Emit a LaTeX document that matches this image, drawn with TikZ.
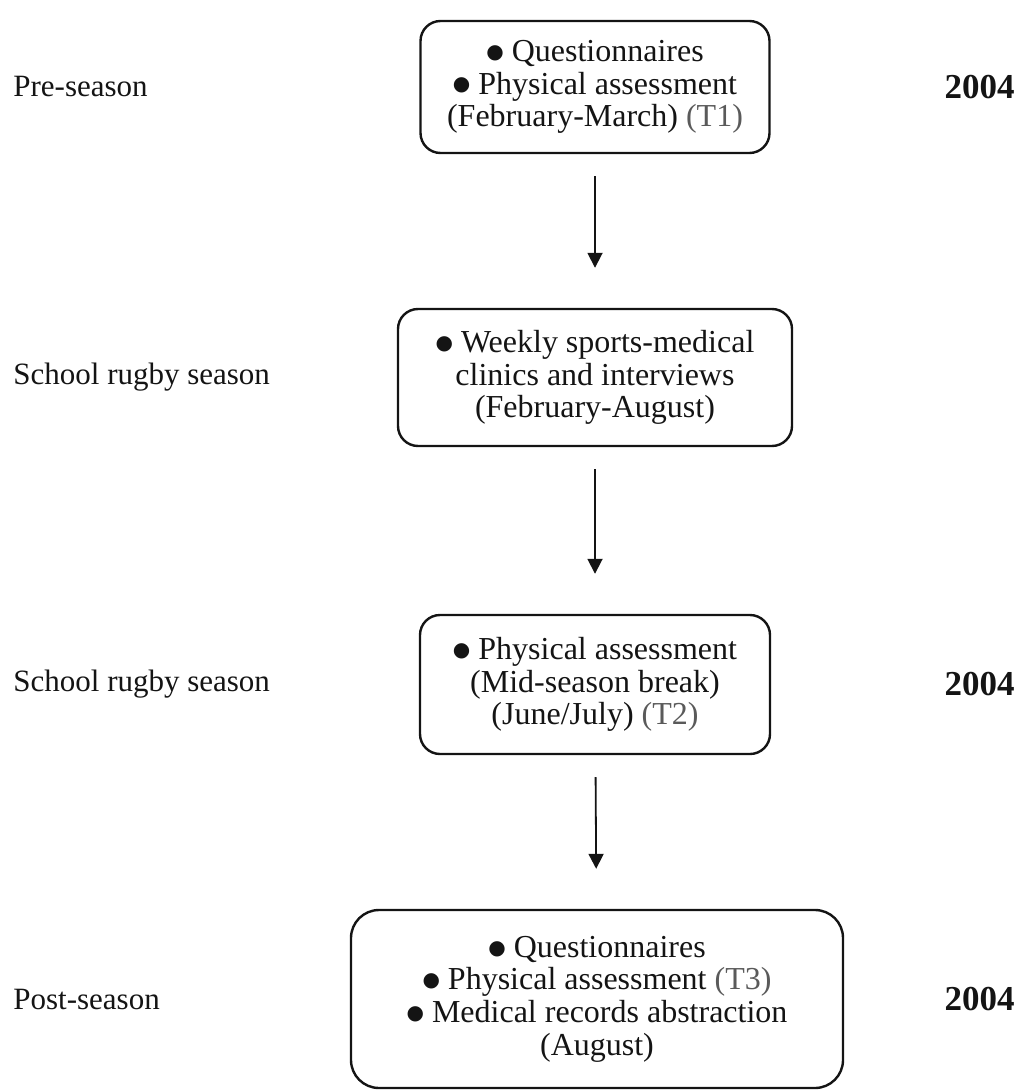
\documentclass[tikz,border=0pt]{standalone}
\usepackage{fontspec}
\setmainfont{Liberation Serif}
\newfontfamily\symfont{DejaVu Sans}
\usepackage{xcolor}
\usepackage{tikz}
\usetikzlibrary{positioning, arrows.meta}
\definecolor{fdInk}{RGB}{20, 20, 20}
\definecolor{fdSoft}{RGB}{90, 90, 90}
\tikzset{
    base/.style={
        font=\fontsize{16}{16.3}\selectfont,
        align=center,
        text=fdInk
    },
    stage/.style={
        base,
        rectangle,
        rounded corners=10pt,
        draw=fdInk,
        line width=1.2pt,
        inner sep=0pt
    },
    phase/.style={
        font=\fontsize{15.5}{17}\selectfont,
        text=fdInk,
        anchor=west,
        inner sep=0pt
    },
    year/.style={
        font=\fontsize{17.5}{18}\selectfont\bfseries,
        text=fdInk,
        anchor=east,
        inner sep=0pt
    },
    flow/.style={
        -{Triangle[length=7.5pt, width=7.5pt]},
        line width=0.9pt,
        color=fdInk,
        shorten <=11pt,
        shorten >=20pt
    }
}
\newcommand{\tmark}[1]{{\color{fdSoft}(T#1)}}
\newcommand{\blob}{\raisebox{1.6pt}{\symfont\fontsize{10}{10}\selectfont ●}\ }

\begin{document}
\begin{tikzpicture}[x=0.5pt, y=-0.5pt]
    \useasboundingbox (0,0) rectangle (1019,1091);

    % Stages of the study
    \node[stage, minimum width=174.5pt, minimum height=66pt] (pre) at (595, 87)
        {\blob Questionnaires\\ \blob Physical assessment\\ (February-March) \tmark{1}};
    \node[stage, minimum width=197pt, minimum height=68.5pt] (clinic) at (595, 377.5)
        {\blob Weekly sports-medical\\ clinics and interviews\\ (February-August)};
    \node[stage, minimum width=175pt, minimum height=69.5pt] (mid) at (595, 684.5)
        {\blob Physical assessment\\ (Mid-season break)\\ (June/July) \tmark{2}};
    \node[stage, rounded corners=14pt, minimum width=246pt, minimum height=89pt] (post) at (597, 999)
        {\blob Questionnaires\\ \blob Physical assessment \tmark{3}\\ \blob Medical records abstraction\\ (August)};

    % Arrows
    \draw[flow] (pre) -- (clinic);
    \draw[flow] (clinic) -- (mid);
    \draw[flow] (mid) -- (post);

    % Season labels
    \node[phase] (preL) at (13, 87) {Pre-season};
    \node[phase] (clinicL) at (13, 377.5) {School rugby season};
    \node[phase] (midL) at (13, 684.5) {School rugby season};
    \node[phase] (postL) at (13, 999) {Post-season};

    % Years
    \node[year] (preY) at (1015, 87) {2004};
    \node[year] (midY) at (1015, 684.5) {2004};
    \node[year] (postY) at (1015, 999) {2004};
\end{tikzpicture}
\end{document}
